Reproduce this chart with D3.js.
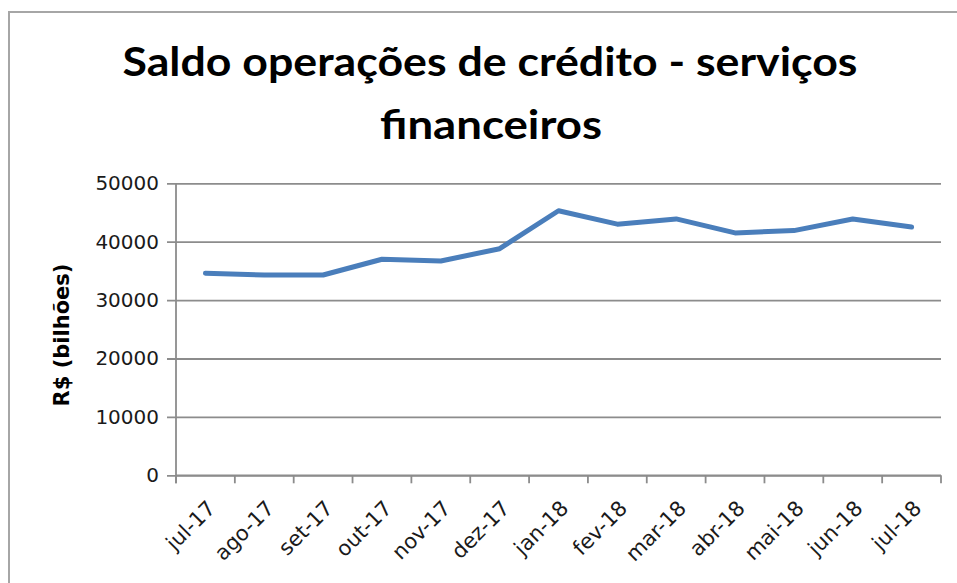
<!DOCTYPE html>
<html><head><meta charset="utf-8">
<script src="https://cdn.jsdelivr.net/npm/d3@7"></script>
<style>body{margin:0;background:#fff;}svg{display:block;}</style>
</head><body>
<svg id="chart" width="957" height="583"></svg>
<script>
const categories = ["jul-17","ago-17","set-17","out-17","nov-17","dez-17","jan-18","fev-18","mar-18","abr-18","mai-18","jun-18","jul-18"];
const values = [34600,34300,34300,37000,36700,38800,45300,43000,43900,41500,41900,43900,42500];
const yTicks = [0,10000,20000,30000,40000,50000];
const titleLines = ["Saldo operações de crédito - serviços","financeiros"];
const yTitle = "R$ (bilhões)";

const svg = d3.select("#chart");
const L = 176, R = 941, T = 183.3, B = 475.3;
const x = d3.scaleBand().domain(categories).range([L, R]);
const y = d3.scaleLinear().domain([0, 50000]).range([B, T]);

// outer frame
svg.append("rect").attr("x",9).attr("y",12).attr("width",1000).attr("height",1000)
  .attr("fill","none").attr("stroke","#a6a6a6").attr("stroke-width",2);

// title
svg.append("text").attr("x",490).attr("y",76).attr("text-anchor","middle")
  .attr("font-family","Lato").attr("font-weight",700).attr("font-size",41)
  .attr("textLength",735).attr("lengthAdjust","spacingAndGlyphs")
  .attr("fill","#000").text(titleLines[0]);
svg.append("text").attr("x",491).attr("y",139).attr("text-anchor","middle")
  .attr("font-family","Lato").attr("font-weight",700).attr("font-size",41)
  .attr("textLength",222).attr("lengthAdjust","spacingAndGlyphs")
  .attr("fill","#000").text(titleLines[1]);

// gridlines + y axis
const yAxis = d3.axisLeft(y).tickValues(yTicks).tickSize(-(R - L)).tickSizeOuter(0).tickPadding(17)
  .tickFormat(d3.format("d"));
const gy = svg.append("g").attr("transform",`translate(${L},0)`).call(yAxis);
gy.select(".domain").remove();
gy.selectAll(".tick line").attr("x1",-9).attr("stroke","#8c8c8c").attr("stroke-width",1.8);
gy.selectAll(".tick text").attr("font-family","DejaVu Sans").attr("font-size",20).attr("fill","#1a1a1a");

// y axis line
svg.append("line").attr("x1",L).attr("x2",L).attr("y1",T).attr("y2",B+8)
  .attr("stroke","#8c8c8c").attr("stroke-width",1.8);

// x axis
const bounds = categories.map(c => x(c)).concat([R]);
svg.append("line").attr("x1",L).attr("x2",R).attr("y1",B).attr("y2",B)
  .attr("stroke","#8c8c8c").attr("stroke-width",1.8);
svg.append("g").selectAll("line").data(bounds).join("line")
  .attr("x1",d=>d).attr("x2",d=>d).attr("y1",B).attr("y2",B+8)
  .attr("stroke","#8c8c8c").attr("stroke-width",1.8);
svg.append("g").selectAll("text").data(categories).join("text")
  .attr("transform",d=>`translate(${x(d)+x.bandwidth()/2+6},${B+29}) rotate(-45)`)
  .attr("text-anchor","end").attr("dy","0.35em")
  .attr("font-family","DejaVu Sans").attr("font-size",21).attr("fill","#1a1a1a")
  .text(d=>d);

// y title
svg.append("text").attr("transform",`translate(69,335) rotate(-90)`)
  .attr("text-anchor","middle").attr("font-family","DejaVu Sans").attr("font-weight",700)
  .attr("font-size",21).attr("fill","#000").text(yTitle);

// line
const line = d3.line().x((d,i)=>x(categories[i])+x.bandwidth()/2).y(d=>y(d));
svg.append("path").datum(values).attr("d",line).attr("fill","none")
  .attr("stroke","#4a7ebb").attr("stroke-width",5).attr("stroke-linejoin","round").attr("stroke-linecap","round");
</script>
</body></html>
